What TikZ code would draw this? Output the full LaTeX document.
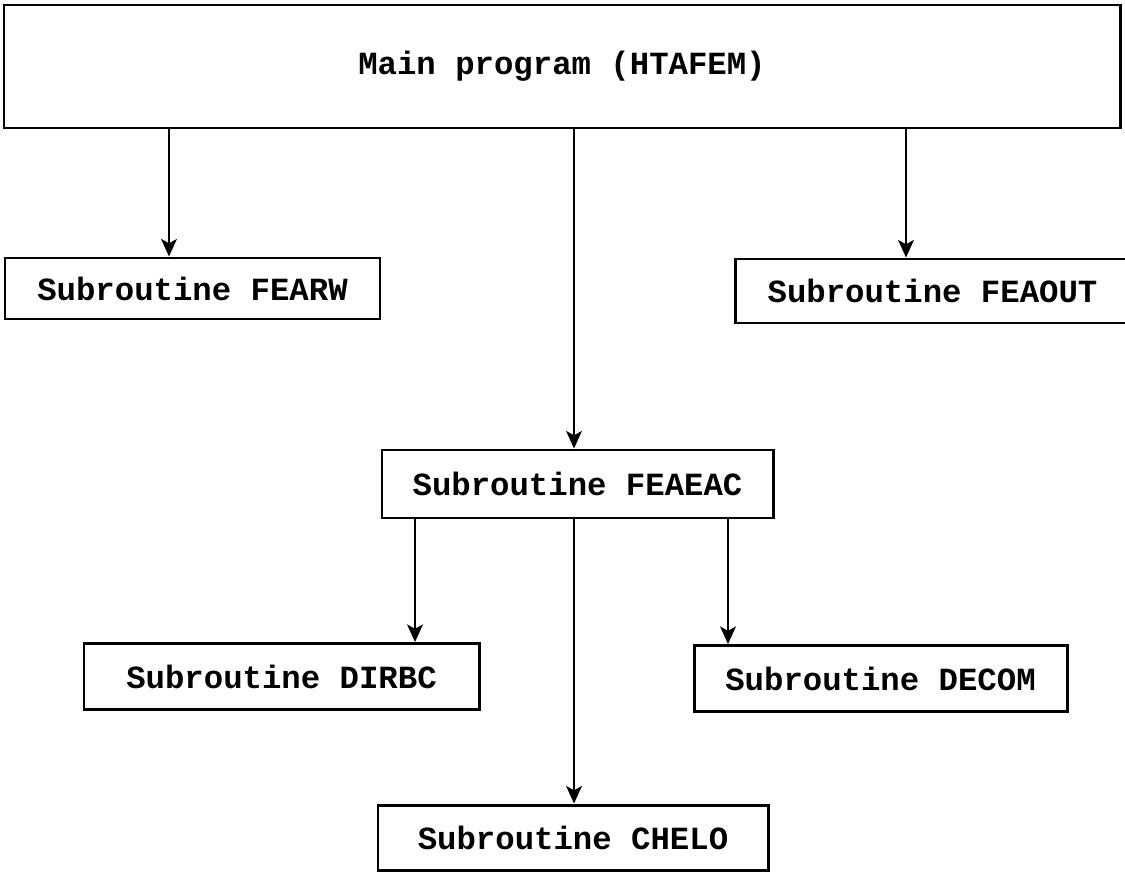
\documentclass[tikz,border=0pt]{standalone}
\usepackage{fontspec}
\setmonofont{Liberation Mono}
\usepackage{tikz}
\usetikzlibrary{arrows.meta,positioning}
\tikzset{%
	mainbox/.style  = {draw, rectangle, line width=1.7pt, minimum width=1116*0.02cm, minimum height=123*0.02cm, font=\fontsize{18.4}{20}\selectfont\ttfamily\bfseries},
	sub/.style      = {draw, rectangle, line width=1.7pt, minimum height=66*0.02cm, font=\fontsize{18.4}{20}\selectfont\ttfamily\bfseries},
	arrow/.style    = {line width=1.1pt, -{Stealth[length=10pt,width=9pt,inset=2.5pt]}},
}

\begin{document}
\begin{tikzpicture}[x=0.02cm,y=-0.02cm]
		\useasboundingbox (0,0) rectangle (1125,875);
		\node [mainbox] (main) at (562,66.5) {Main program (HTAFEM)};
		\node [sub, minimum width=375*0.02cm, minimum height=61*0.02cm] (fearw) at (192.5,288.5) {Subroutine FEARW};
		\node [sub, minimum width=395*0.02cm, minimum height=64*0.02cm] (feaout) at (932.5,291) {Subroutine FEAOUT};
		\node [sub, minimum width=391*0.02cm, minimum height=68*0.02cm] (feaeac) at (577.5,484) {Subroutine FEAEAC};
		\node [sub, minimum width=395*0.02cm] (dirbc) at (281.5,676.5) {Subroutine DIRBC};
		\node [sub, minimum width=373*0.02cm] (decom) at (880.5,678.5) {Subroutine DECOM};
		\node [sub, minimum width=390*0.02cm, minimum height=65*0.02cm] (chelo) at (573,837.5) {Subroutine CHELO};
		
		% x positions of the calls
		\coordinate (c1) at (169,0);
		\coordinate (c2) at (574,0);
		\coordinate (c3) at (906,0);
		\coordinate (c4) at (415,0);
		\coordinate (c5) at (728,0);
		
		\draw[arrow] (main.south -| c1) -- (fearw.north -| c1);
		\draw[arrow] (main.south -| c2) -- (feaeac.north -| c2);
		\draw[arrow] (main.south -| c3) -- (feaout.north -| c3);
		\draw[arrow] (feaeac.south -| c4) -- (dirbc.north -| c4);
		\draw[arrow] (feaeac.south -| c2) -- (chelo.north -| c2);
		\draw[arrow] (feaeac.south -| c5) -- (decom.north -| c5);
	\end{tikzpicture}
\end{document}
